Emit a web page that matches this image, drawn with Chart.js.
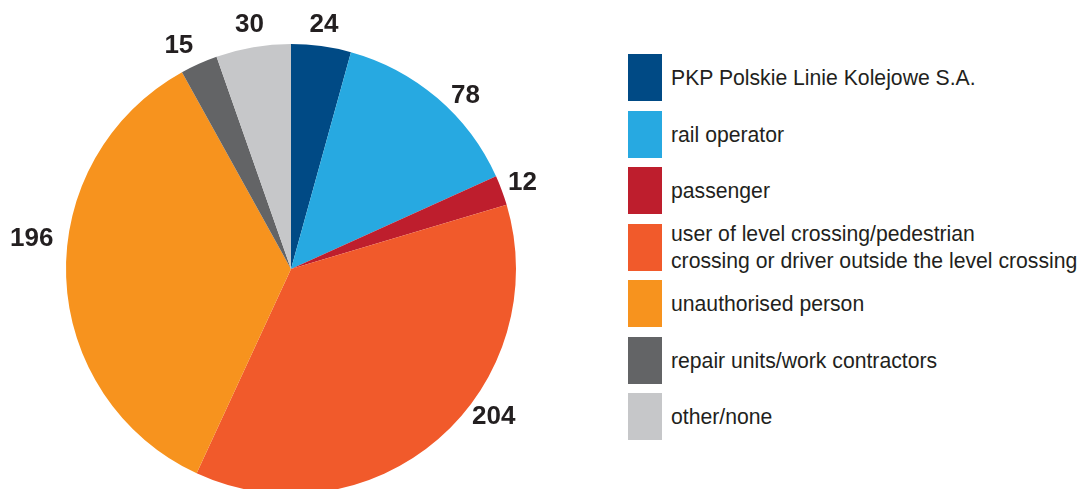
<!DOCTYPE html>
<html>
<head>
<meta charset="utf-8">
<script src="https://cdn.jsdelivr.net/npm/chart.js@4/dist/chart.umd.min.js"></script>
<style>
  html, body { margin: 0; padding: 0; background: #fff; overflow: hidden; }
  body { width: 1081px; height: 489px; position: relative; font-family: "Liberation Sans", Arial, sans-serif; }
  #pie-wrap { position: absolute; left: 0; top: 0; width: 600px; height: 500px; }
  #legend { position: absolute; left: 628px; top: 54px; }
  .leg-row { position: absolute; left: 0; height: 47px; display: flex; align-items: center; white-space: nowrap; }
  .leg-box { width: 34px; height: 47px; flex: none; }
  .leg-text { margin-left: 9px; font-size: 21.2px; line-height: 27px; color: #231f20; }
</style>
</head>
<body>
<div id="pie-wrap"><canvas id="pie" width="600" height="500"></canvas></div>
<div id="legend"></div>
<script>
var categories = [
	"PKP Polskie Linie Kolejowe S.A.",
	"rail operator",
	"passenger",
	["user of level crossing/pedestrian", "crossing or driver outside the level crossing"],
	"unauthorised person",
	"repair units/work contractors",
	"other/none"
];
var counts = [24, 78, 12, 204, 196, 15, 30];
var sliceColors = ["#004a85", "#27a9e1", "#be1e2d", "#f15a2b", "#f7931e", "#636466", "#c6c7c9"];

// hand placement of the value labels, like the original
var labelShift = [0, 4.6, 0, -13, 8.8, -2.5, 0];   // degrees
var labelGap = [21, 21, 22, 26, 36, 25, 23];        // px past the rim

function buildLegend() {
	var html = "";
	for (var i = 0; i < categories.length; i++) {
		var text = Array.isArray(categories[i]) ? categories[i].join("<br>") : categories[i];
		html += '<div class="leg-row" style="top:' + (i * 56.5) + 'px">' +
			'<div class="leg-box" style="background:' + sliceColors[i] + '"></div>' +
			'<div class="leg-text">' + text + '</div></div>';
	}
	document.getElementById("legend").innerHTML = html;
}

var valueLabels = {
	id: "valueLabels",
	afterDatasetsDraw: function(chart) {
		var ctx = chart.ctx;
		var meta = chart.getDatasetMeta(0);
		ctx.save();
		ctx.font = "bold 26px 'Liberation Sans', Arial, sans-serif";
		ctx.fillStyle = "#231f20";
		ctx.textAlign = "center";
		ctx.textBaseline = "middle";
		meta.data.forEach(function(arc, i) {
			var mid = (arc.startAngle + arc.endAngle) / 2 + labelShift[i] * Math.PI / 180;
			var r = arc.outerRadius + labelGap[i];
			ctx.fillText(String(counts[i]), arc.x + Math.cos(mid) * r, arc.y + Math.sin(mid) * r);
		});
		ctx.restore();
	}
};

buildLegend();

new Chart(document.getElementById("pie"), {
	type: "pie",
	data: {
		labels: categories,
		datasets: [{
			data: counts,
			backgroundColor: sliceColors,
			borderWidth: 0
		}]
	},
	options: {
		responsive: false,
		animation: false,
		layout: { padding: { left: 66, right: 84, top: 44, bottom: 6 } },
		plugins: {
			legend: { display: false },
			tooltip: { enabled: false }
		}
	},
	plugins: [valueLabels]
});
</script>
</body>
</html>
